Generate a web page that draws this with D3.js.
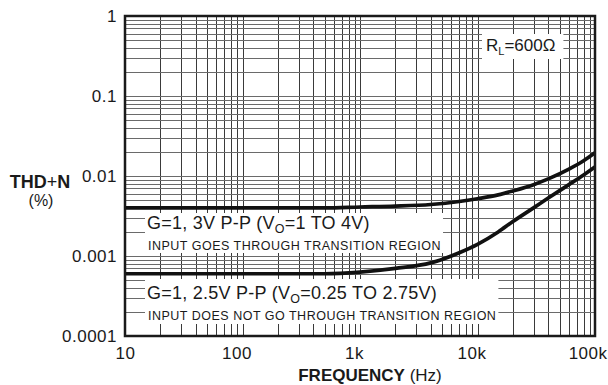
<!DOCTYPE html>
<html>
<head>
<meta charset="utf-8">
<script src="https://cdn.jsdelivr.net/npm/d3@7"></script>
<style>
  body { margin: 0; background: #fff; }
  text { font-family: "Liberation Sans", Arial, sans-serif; fill: #1a1a1a; }
</style>
</head>
<body>
<svg id="chart" width="608" height="385"></svg>
<script>
// frequencies (Hz)
const freqs = [10, 100, 500, 1000, 2000, 4000, 7000, 10000, 15000, 20000, 30000, 40000, 60000, 80000, 100000]
// THD+N (%) for G=1, 3V P-P (input goes through transition region)
const thd3v = [0.004, 0.004, 0.004, 0.0041, 0.0042, 0.0044, 0.0048, 0.0052, 0.0058, 0.0065, 0.0078, 0.0092, 0.0122, 0.0155, 0.0195]
// THD+N (%) for G=1, 2.5V P-P (input does not go through transition region)
const thd25v = [0.0006, 0.0006, 0.0006, 0.00063, 0.0007, 0.00082, 0.0011, 0.0014, 0.002, 0.0027, 0.004, 0.0053, 0.0078, 0.0103, 0.013]

const xTicks = [10, 100, 1000, 10000, 100000]
const xTickLabels = ["10", "100", "1k", "10k", "100k"]
const yTicks = [0.0001, 0.001, 0.01, 0.1, 1]
const yTickLabels = ["0.0001", "0.001", "0.01", "0.1", "1"]

const plotLeft = 125, plotRight = 595, plotTop = 16, plotBottom = 336

const svg = d3.select("#chart")

const x = d3.scaleLog().domain([10, 100000]).range([plotLeft, plotRight])
const y = d3.scaleLog().domain([0.0001, 1]).range([plotBottom, plotTop])

// grid
const grid = svg.append("g").attr("id", "grid")
grid.selectAll("line.v")
    .data(x.ticks())
    .join("line")
    .attr("class", "v")
    .attr("x1", (d) => Math.round(x(d)) + 0.5)
    .attr("x2", (d) => Math.round(x(d)) + 0.5)
    .attr("y1", plotTop)
    .attr("y2", plotBottom)
    .attr("stroke", "#3a3a3a")
    .attr("stroke-width", 1)

grid.selectAll("line.h")
    .data(y.ticks())
    .join("line")
    .attr("class", "h")
    .attr("x1", plotLeft)
    .attr("x2", plotRight)
    .attr("y1", (d) => Math.round(y(d)) + 0.5)
    .attr("y2", (d) => Math.round(y(d)) + 0.5)
    .attr("stroke", "#6a6a6a")
    .attr("stroke-width", 1)

// label blocks with white backing
function labelBlock(x0, y1, y2, parts, sub, after, small, padTop, padBottom) {
    const g = svg.append("g")
    const bg = g.append("rect").attr("fill", "#fff")
    const t1 = g.append("text")
        .attr("x", x0)
        .attr("y", y1)
        .attr("font-size", 18)
        .attr("letter-spacing", 0.25)
    t1.append("tspan").text(parts)
    t1.append("tspan").attr("font-size", 12.5).attr("dy", 4).text(sub)
    t1.append("tspan").attr("dy", -4).text(after)
    g.append("text")
        .attr("x", x0 + 1)
        .attr("y", y2)
        .attr("font-size", 12.5)
        .attr("letter-spacing", 0.5)
        .text(small)
    const b = g.node().getBBox()
    bg.attr("x", b.x - 2)
        .attr("y", b.y - padTop)
        .attr("width", b.width + 4)
        .attr("height", b.height + padTop + padBottom)
}

labelBlock(147, 229, 250, "G=1, 3V P-P (V", "O", "=1 TO 4V)",
    "INPUT GOES THROUGH TRANSITION REGION", 0, 0)
labelBlock(147, 299, 320, "G=1, 2.5V P-P (V", "O", "=0.25 TO 2.75V)",
    "INPUT DOES NOT GO THROUGH TRANSITION REGION", 4, 1)

// R_L label
const rl = svg.append("g")
const rlBg = rl.append("rect").attr("fill", "#fff")
const rlText = rl.append("text").attr("x", 486).attr("y", 51).attr("font-size", 17)
rlText.append("tspan").text("R")
rlText.append("tspan").attr("font-size", 11).attr("dy", 4).text("L")
rlText.append("tspan").attr("dy", -4).text("=600Ω")
const rb = rl.node().getBBox()
rlBg.attr("x", rb.x - 4).attr("y", rb.y - 2).attr("width", rb.width + 12).attr("height", rb.height + 4)

// curves
const line = d3.line()
    .x((d) => x(d[0]))
    .y((d) => y(d[1]))
    .curve(d3.curveMonotoneX)

const series = [thd3v, thd25v]
svg.append("g")
    .selectAll("path")
    .data(series)
    .join("path")
    .attr("d", (vals) => line(freqs.map((f, i) => [f, vals[i]])))
    .attr("fill", "none")
    .attr("stroke", "#111")
    .attr("stroke-width", 3.7)

// border
svg.append("rect")
    .attr("x", plotLeft)
    .attr("y", plotTop)
    .attr("width", plotRight - plotLeft)
    .attr("height", plotBottom - plotTop)
    .attr("fill", "none")
    .attr("stroke", "#1a1a1a")
    .attr("stroke-width", 2.5)

// axes
const yAxis = svg.append("g")
    .attr("transform", `translate(${plotLeft},0)`)
    .call(d3.axisLeft(y).tickValues(yTicks)
        .tickFormat((d, i) => yTickLabels[i]).tickSize(0).tickPadding(8))
yAxis.select(".domain").remove()
yAxis.selectAll("text")
    .attr("font-size", 17)
    .attr("letter-spacing", 0.5)
    .attr("font-family", null)

const xAxis = svg.append("g")
    .attr("transform", `translate(0,${plotBottom})`)
    .call(d3.axisBottom(x).tickValues(xTicks)
        .tickFormat((d, i) => xTickLabels[i]).tickSize(0).tickPadding(11))
xAxis.select(".domain").remove()
xAxis.selectAll("text")
    .attr("font-size", 17)
    .attr("letter-spacing", 0.5)
    .attr("font-family", null)
    .attr("dx", (d, i) => (i === 0 ? 0 : i === xTicks.length - 1 ? 0 : -6))
    .attr("text-anchor", (d, i) => (i === xTicks.length - 1 ? "end" : "middle"))
    .attr("x", (d, i) => (i === xTicks.length - 1 ? 12 : 0))

// axis titles
const xt = svg.append("text")
    .attr("x", 370)
    .attr("y", 381)
    .attr("text-anchor", "middle")
    .attr("font-size", 17)
xt.append("tspan").attr("font-weight", "bold").text("FREQUENCY")
xt.append("tspan").text(" (Hz)")

const yt = svg.append("text")
    .attr("x", 40)
    .attr("y", 188)
    .attr("text-anchor", "middle")
    .attr("font-size", 18)
yt.append("tspan").attr("font-weight", "bold").text("THD")
yt.append("tspan").text("+")
yt.append("tspan").attr("font-weight", "bold").text("N")
svg.append("text")
    .attr("x", 41)
    .attr("y", 206)
    .attr("text-anchor", "middle")
    .attr("font-size", 16)
    .text("(%)")
</script>
</body>
</html>
